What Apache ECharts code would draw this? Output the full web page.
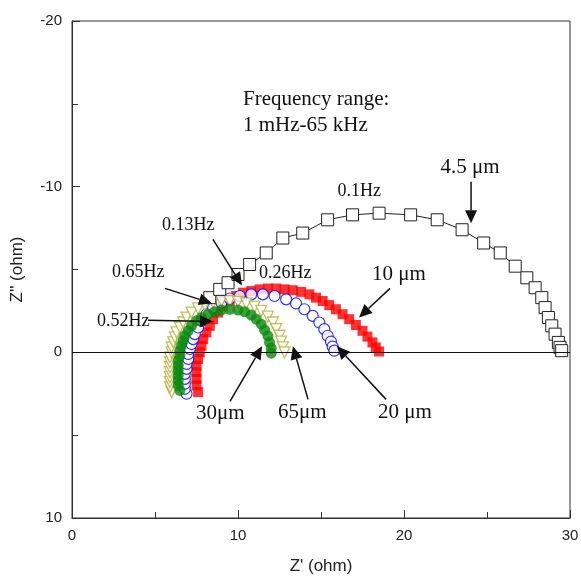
<!DOCTYPE html>
<html><head><meta charset="utf-8">
<script src="https://cdn.jsdelivr.net/npm/echarts@6/dist/echarts.min.js"></script>
<style>html,body{margin:0;padding:0;background:#fff}#c{width:581px;height:577px}</style>
</head><body><div id="c"></div>
<script>
// ---- data (Z' , Z'') in ohm ----
const xTickLabels = [0, 10, 20, 30];
const yTickLabels = [-20, -10, 0, 10];

const s4_5um = [[8.3,-3.3],[8.9,-3.8],[9.4,-4.2],[10.0,-4.7],[10.7,-5.3],[11.7,-6.0],[12.7,-6.9],[13.9,-7.2],[15.4,-8.0],[16.9,-8.3],[18.5,-8.4],[20.4,-8.3],[22.0,-8.0],[23.5,-7.4],[24.8,-6.6],[25.8,-6.0],[26.7,-5.2],[27.4,-4.5],[27.9,-3.9],[28.3,-3.3],[28.5,-2.7],[28.7,-2.1],[28.9,-1.6],[29.1,-1.1],[29.3,-0.6],[29.4,-0.3],[29.5,-0.1]];

const s10um = [[7.6,2.4],[7.5,2.0],[7.5,1.6],[7.5,1.2],[7.5,0.8],[7.6,0.4],[7.7,0.0],[7.8,-0.4],[7.9,-0.8],[8.1,-1.2],[8.3,-1.6],[8.5,-2.0],[8.8,-2.4],[9.1,-2.8],[9.5,-3.1],[9.9,-3.4],[10.3,-3.6],[10.8,-3.7],[11.3,-3.8],[11.8,-3.85],[12.3,-3.85],[12.8,-3.8],[13.3,-3.75],[13.8,-3.65],[14.3,-3.5],[14.7,-3.3],[15.1,-3.1],[15.5,-2.85],[15.9,-2.6],[16.3,-2.3],[16.7,-2.0],[17.1,-1.65],[17.5,-1.3],[17.8,-0.95],[18.1,-0.6],[18.3,-0.3],[18.5,-0.05]];

const s20um = [[6.9,2.5],[6.8,2.2],[6.8,1.9],[6.8,1.6],[6.8,1.3],[6.9,1.0],[6.9,0.7],[7.0,0.4],[7.0,0.1],[7.1,-0.2],[7.2,-0.5],[7.3,-0.8],[7.4,-1.1],[7.6,-1.5],[7.8,-1.9],[8.1,-2.3],[8.5,-2.7],[9.0,-3.0],[9.5,-3.25],[10.1,-3.4],[10.8,-3.5],[11.5,-3.5],[12.2,-3.4],[12.9,-3.2],[13.5,-2.95],[14.0,-2.6],[14.5,-2.2],[14.9,-1.8],[15.2,-1.4],[15.4,-1.0],[15.6,-0.65],[15.7,-0.35],[15.8,-0.1]];

const s65um = [[6.0,2.4],[5.9,2.1],[5.9,1.8],[5.9,1.5],[5.9,1.2],[5.9,0.9],[5.9,0.6],[5.9,0.3],[6.0,0.0],[6.0,-0.3],[6.1,-0.6],[6.2,-0.9],[6.3,-1.2],[6.5,-1.5],[6.7,-1.8],[6.9,-2.1],[7.2,-2.4],[7.6,-2.65],[8.0,-2.85],[8.5,-3.0],[9.0,-3.1],[9.5,-3.1],[10.0,-3.05],[10.5,-2.95],[11.0,-2.75],[11.4,-2.5],[11.8,-2.15],[12.1,-1.8],[12.3,-1.4],[12.5,-1.0],[12.6,-0.65],[12.7,-0.3],[12.8,0.0]];

const s30um = [[6.5,2.3],[6.4,2.0],[6.4,1.7],[6.4,1.4],[6.4,1.1],[6.4,0.8],[6.4,0.5],[6.5,0.2],[6.5,-0.1],[6.6,-0.4],[6.7,-0.7],[6.8,-1.0],[7.0,-1.3],[7.2,-1.6],[7.5,-1.9],[7.8,-2.1],[8.2,-2.3],[8.6,-2.45],[9.0,-2.55],[9.5,-2.6],[10.0,-2.55],[10.4,-2.45],[10.8,-2.25],[11.1,-2.0],[11.4,-1.7],[11.6,-1.35],[11.8,-1.0],[11.9,-0.6],[12.0,-0.25],[12.0,0.05]];

// ---- annotation layout (data coordinates) ----
const labelTexts = ['Frequency range:', '1 mHz-65 kHz', '4.5 \u03bcm', '0.1Hz', '0.13Hz', '0.26Hz', '0.65Hz', '0.52Hz', '10 \u03bcm', '20 \u03bcm', '65\u03bcm', '30\u03bcm'];
const layoutLabels = [
  [10.3,-15.27,'big'],[10.3,-13.7,'big'],[22.2,-11.16,'big'],[16.0,-9.72,'small'],[5.42,-7.66,'small'],[11.27,-4.77,'small'],[2.41,-4.83,'small'],[1.51,-1.87,'small'],[18.07,-4.71,'big'],[18.43,3.62,'big'],[12.41,3.62,'big'],[7.47,3.68,'big']
];
const layoutArrows = [
  [[24.04,-10.3],[24.04,-7.79]],
  [[8.49,-6.82],[10.24,-4.04]],
  [[5.6,-3.86],[8.43,-2.96]],
  [[4.58,-1.93],[8.49,-1.87]],
  [[19.16,-3.86],[17.29,-2.11]],
  [[18.92,2.84],[15.96,-0.36]],
  [[14.22,2.84],[13.31,-0.36]],
  [[9.52,2.96],[11.45,-0.36]]
];

const sans = '"Liberation Sans", Arial, sans-serif';
const serif = '"Liberation Serif", "Times New Roman", serif';
const chart = echarts.init(document.getElementById('c'), null, {renderer: 'canvas'});

const axisCommon = {
  axisLine: {onZero: false, lineStyle: {color: '#333', width: 1}},
  axisTick: {inside: true, length: 8, lineStyle: {color: '#333'}},
  minorTick: {show: true, splitNumber: 2, length: 6, lineStyle: {color: '#333'}},
  splitLine: {show: false},
  axisLabel: {fontSize: 15, fontFamily: sans, color: '#222', margin: 10},
  nameTextStyle: {fontSize: 17, fontFamily: sans, color: '#222'}
};

chart.setOption({
  animation: false,
  backgroundColor: '#fff',
  grid: {left: 72, right: 11, top: 21, bottom: 59, show: true, borderColor: '#333', borderWidth: 1,
         containLabel: false, outerBoundsMode: 'none'},
  xAxis: Object.assign({}, axisCommon, {
    type: 'value', min: xTickLabels[0], max: xTickLabels[xTickLabels.length-1], interval: 10,
    name: "Z' (ohm)", nameLocation: 'middle', nameGap: 40
  }),
  yAxis: Object.assign({}, axisCommon, {
    type: 'value', inverse: true, min: yTickLabels[0], max: yTickLabels[yTickLabels.length-1], interval: 10,
    name: "Z'' (ohm)", nameLocation: 'middle', nameGap: 46
  }),
  series: [
    {type: 'scatter', name: '10 um', data: s10um, symbol: 'rect', symbolSize: 10,
     itemStyle: {color: '#ff0000'},
     markLine: {silent: true, symbol: 'none', label: {show: false},
       lineStyle: {color: '#111', width: 1, type: 'solid'}, data: [{yAxis: 0}]}},
    {type: 'scatter', name: '20 um', data: s20um, symbol: 'circle', symbolSize: 11,
     itemStyle: {color: '#ffffff', borderColor: '#0000ff', borderWidth: 1.2}},
    {type: 'scatter', name: '65 um', data: s65um, symbol: 'triangle', symbolRotate: 180, symbolSize: 11,
     itemStyle: {color: '#ffffff', borderColor: '#b3b03a', borderWidth: 1.3}},
    {type: 'scatter', name: '30 um', data: s30um, symbol: 'circle', symbolSize: 11,
     itemStyle: {color: '#0a8a0a'}},
    {type: 'line', name: '4.5 um', data: s4_5um, symbol: 'rect', symbolSize: 12, showSymbol: true,
     lineStyle: {color: '#222', width: 1},
     itemStyle: {color: '#ffffff', borderColor: '#222', borderWidth: 1}}
  ]
});

function P(pt){ return chart.convertToPixel({gridIndex: 0}, pt); }
const graphics = [];
labelTexts.forEach(function(t, i){
  const L = layoutLabels[i];
  const p = P([L[0], L[1]]);
  graphics.push({type: 'text', x: p[0], y: p[1], z: 100, silent: true,
    style: {text: t, fill: '#111', font: (L[2]==='big' ? '21px ' : '18px ') + serif,
            verticalAlign: 'middle', textVerticalAlign: 'middle', align: 'left'}});
});
layoutArrows.forEach(function(a){
  const s = P(a[0]), t = P(a[1]);
  const dx = t[0]-s[0], dy = t[1]-s[1], len = Math.sqrt(dx*dx+dy*dy);
  const ux = dx/len, uy = dy/len, hl = 13, hw = 6;
  const bx = t[0]-ux*hl, by = t[1]-uy*hl;
  graphics.push({type: 'line', z: 100, silent: true, shape: {x1: s[0], y1: s[1], x2: bx, y2: by}, style: {stroke: '#111', lineWidth: 1.5}});
  graphics.push({type: 'polygon', z: 100, silent: true, shape: {points: [[t[0],t[1]],[bx-uy*hw, by+ux*hw],[bx+uy*hw, by-ux*hw]]}, style: {fill: '#111'}});
});
chart.setOption({graphic: graphics});
</script>
</body></html>
